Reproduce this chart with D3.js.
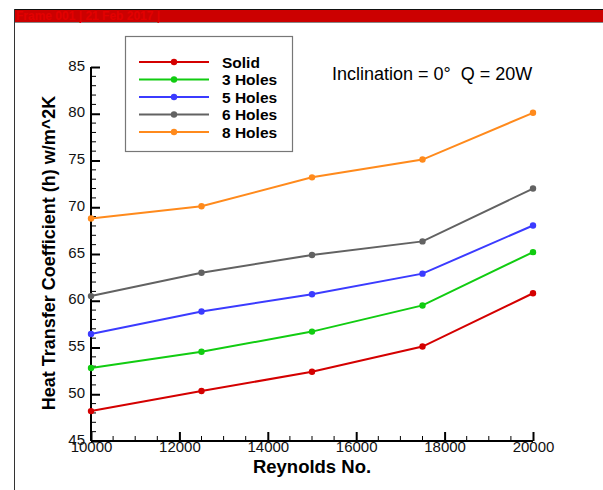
<!DOCTYPE html>
<html>
<head>
<meta charset="utf-8">
<script src="https://cdn.jsdelivr.net/npm/d3@7"></script>
<style>
  body { margin: 0; background: #fff; }
  svg { display: block; font-family: "Liberation Sans", Arial, sans-serif; }
  .tick text { font-size: 15px; }
</style>
</head>
<body>
<script>
// Reynolds numbers (x) and heat transfer coefficient per configuration
var reynolds = [10000, 12500, 15000, 17500, 20000];
var solid   = [48.2, 50.35, 52.4, 55.1, 60.8];
var holes3  = [52.8, 54.55, 56.7, 59.5, 65.2];
var holes5  = [56.45, 58.85, 60.7, 62.9, 68.05];
var holes6  = [60.5, 63.0, 64.9, 66.35, 72.0];
var holes8  = [68.8, 70.1, 73.2, 75.1, 80.1];
var seriesNames = ["Solid", "3 Holes", "5 Holes", "6 Holes", "8 Holes"];
var seriesColors = ["#d40000", "#11cc11", "#3b3bff", "#626262", "#ff8a1c"];
var xTicks = [10000, 12000, 14000, 16000, 18000, 20000];
var yTicks = [45, 50, 55, 60, 65, 70, 75, 80, 85];

var W = 603, H = 490;
var margin = { top: 67, left: 91, right: 70, bottom: 49 };
var width = W - margin.left - margin.right,
    height = H - margin.top - margin.bottom;

var svg = d3.select("body").append("svg")
    .attr("width", W)
    .attr("height", H);

// header bar (tecplot frame)
svg.append("rect").attr("x", 14).attr("y", 9).attr("width", W - 14).attr("height", 13)
    .attr("fill", "#cc0000");
svg.append("line").attr("x1", 14).attr("x2", W).attr("y1", 9.5).attr("y2", 9.5)
    .attr("stroke", "#111").attr("stroke-width", 1);
svg.append("line").attr("x1", 14).attr("x2", W).attr("y1", 22.5).attr("y2", 22.5)
    .attr("stroke", "#888").attr("stroke-width", 1);
svg.append("line").attr("x1", 14.5).attr("x2", 14.5).attr("y1", 9).attr("y2", H)
    .attr("stroke", "#333").attr("stroke-width", 1);
svg.append("text").attr("x", 16).attr("y", 20)
    .attr("fill", "#e30000").style("font-size", "12px").style("font-weight", "bold")
    .text("Frame 001 | 21 Feb 2017 |");

var g = svg.append("g")
    .attr("transform", "translate(" + margin.left + "," + margin.top + ")");

var x = d3.scaleLinear().domain([10000, 20000]).range([0, width]);
var y = d3.scaleLinear().domain([45, 85]).range([height, 0]);

// minor ticks
g.selectAll(".yminor")
    .data(d3.range(45, 86, 1).filter(function(v) { return v % 5 !== 0; }))
    .enter().append("line")
    .attr("x1", 0).attr("x2", 5)
    .attr("y1", function(d) { return y(d); }).attr("y2", function(d) { return y(d); })
    .attr("stroke", "#000").attr("stroke-width", 1);

g.selectAll(".xminor")
    .data(d3.range(10000, 20001, 500).filter(function(v) { return v % 2000 !== 0; }))
    .enter().append("line")
    .attr("y1", height).attr("y2", height - 5)
    .attr("x1", function(d) { return x(d); }).attr("x2", function(d) { return x(d); })
    .attr("stroke", "#000").attr("stroke-width", 1);

// axes with inward major ticks
var xAxis = g.append("g")
    .attr("transform", "translate(0," + height + ")")
    .call(d3.axisBottom(x).tickValues(xTicks).tickSize(-9).tickPadding(3).tickFormat(d3.format("d")));
var yAxis = g.append("g")
    .call(d3.axisLeft(y).tickValues(yTicks).tickSize(-9).tickPadding(6));

[xAxis, yAxis].forEach(function(ax) {
    ax.attr("font-size", 15).attr("font-family", "Liberation Sans, Arial, sans-serif");
    ax.select(".domain").attr("stroke", "#000").attr("stroke-width", 2);
    ax.selectAll(".tick line").attr("stroke", "#000").attr("stroke-width", 2);
    ax.selectAll(".tick text").attr("fill", "#111");
});
xAxis.selectAll(".tick text").attr("dy", "0.55em");
yAxis.selectAll(".tick text").attr("x", -6).attr("dy", "0.2em");
// domain line without outer ticks
xAxis.select(".domain").attr("d", "M0,0H" + width);
yAxis.select(".domain").attr("d", "M0,0V" + height);

// lines
var allSeries = [solid, holes3, holes5, holes6, holes8];
var line = d3.line()
    .x(function(d, i) { return x(reynolds[i]); })
    .y(function(d) { return y(d); });

allSeries.forEach(function(vals, k) {
    g.append("path")
        .datum(vals)
        .attr("fill", "none")
        .attr("stroke", seriesColors[k])
        .attr("stroke-width", 2)
        .attr("d", line);
    g.selectAll(".pt" + k)
        .data(vals)
        .enter().append("circle")
        .attr("cx", function(d, i) { return x(reynolds[i]); })
        .attr("cy", function(d) { return y(d); })
        .attr("r", 3.2)
        .attr("fill", seriesColors[k]);
});

// axis titles
svg.append("text")
    .attr("x", margin.left + width / 2)
    .attr("y", 473)
    .attr("text-anchor", "middle")
    .style("font-size", "18.5px").style("font-weight", "bold")
    .text("Reynolds No.");

svg.append("text")
    .attr("transform", "translate(55," + (margin.top + height / 2 - 1) + ") rotate(-90)")
    .attr("text-anchor", "middle")
    .style("font-size", "18px").style("font-weight", "bold")
    .text("Heat Transfer Coefficient (h) w/m^2K");

// annotation
svg.append("text")
    .attr("x", 332).attr("y", 80)
    .style("font-size", "18px")
    .style("white-space", "pre")
    .text("Inclination = 0°  Q = 20W");

// legend
var legend = svg.append("g");
legend.append("rect")
    .attr("x", 125.5).attr("y", 36.5).attr("width", 167).attr("height", 115)
    .attr("fill", "#fff").attr("stroke", "#777").attr("stroke-width", 1.2);
seriesNames.forEach(function(name, k) {
    var ly = 62 + k * 17.5;
    legend.append("line")
        .attr("x1", 139).attr("x2", 209).attr("y1", ly).attr("y2", ly)
        .attr("stroke", seriesColors[k]).attr("stroke-width", 2);
    legend.append("circle")
        .attr("cx", 174).attr("cy", ly).attr("r", 3.2).attr("fill", seriesColors[k]);
    legend.append("text")
        .attr("x", 222).attr("y", ly + 5.5)
        .style("font-size", "15.5px").style("font-weight", "bold")
        .text(name);
});
</script>
</body>
</html>
